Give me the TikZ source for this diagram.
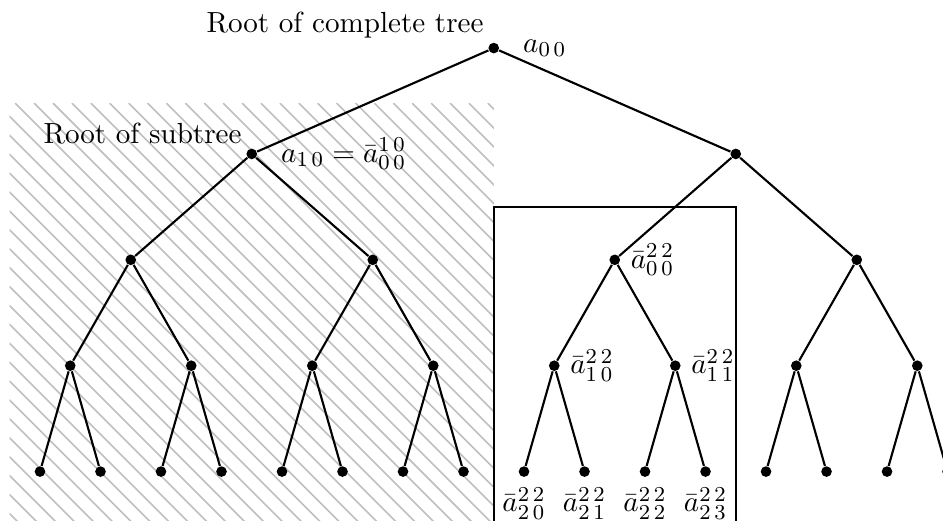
\documentclass[11pt,tikz,border=0pt]{standalone}
\usepackage{amsmath, amssymb}
\usepackage{tikz}
\usetikzlibrary{positioning}

\tikzset{
  vertex/.style={circle, fill=black, inner sep=0pt, minimum size=4pt},
  treeedge/.style={thick},
  hatchline/.style={gray!50, line width=0.6pt},
}

\begin{document}
\begin{tikzpicture}[x=0.8cm, y=1.4cm]
  \useasboundingbox (-0.161,0.454) rectangle (15.425,-4.463);
  \clip (-0.161,0.454) rectangle (15.425,-4.463);
  % hatched subtree
  \begin{scope}
    \clip (0,-0.52) rectangle (8,-4.6);
    \foreach \k in {0,...,50}
      \draw[hatchline] ({\k*0.3125-7.41},-0.52) -- ++(-45:8cm);
  \end{scope}
  % box round the small subtree
  \draw[thick] (8,-1.5) rectangle (12,-4.7);
  % vertices
  \foreach \l in {0,...,4} {
    \pgfmathtruncatemacro{\last}{2^\l-1}
    \foreach \i in {0,...,\last}
      \node[vertex] (n-\l-\i) at ({(\i+0.5)*16/2^\l}, -\l) {};
  }
  % edges
  \foreach \l in {1,...,4} {
    \pgfmathtruncatemacro{\last}{2^\l-1}
    \pgfmathtruncatemacro{\up}{\l-1}
    \foreach \i in {0,...,\last} {
      \pgfmathtruncatemacro{\p}{floor(\i/2)}
      \draw[treeedge] (n-\up-\p) -- (n-\l-\i);
    }
  }
  % labels
  \node[above left] at (n-0-0.center) {Root of complete tree};
  \node[above left] at (n-1-0.center) {Root of subtree};
  \node[right=5pt of n-0-0] {$a_{0\,0}$};
  \node[right=5pt of n-1-0] {$a_{1\,0} = \bar a^{1\,0}_{0\,0}$};
  \node[right=0pt of n-2-2] {$\bar a^{2\,2}_{0\,0}$};
  \node[right=0pt of n-3-4] {$\bar a^{2\,2}_{1\,0}$};
  \node[right=0pt of n-3-5] {$\bar a^{2\,2}_{1\,1}$};
  \foreach \i/\j in {8/0, 9/1, 10/2, 11/3}
    \node[below=0pt of n-4-\i] {$\bar a^{2\,2}_{2\,\j}$};
\end{tikzpicture}
\end{document}
